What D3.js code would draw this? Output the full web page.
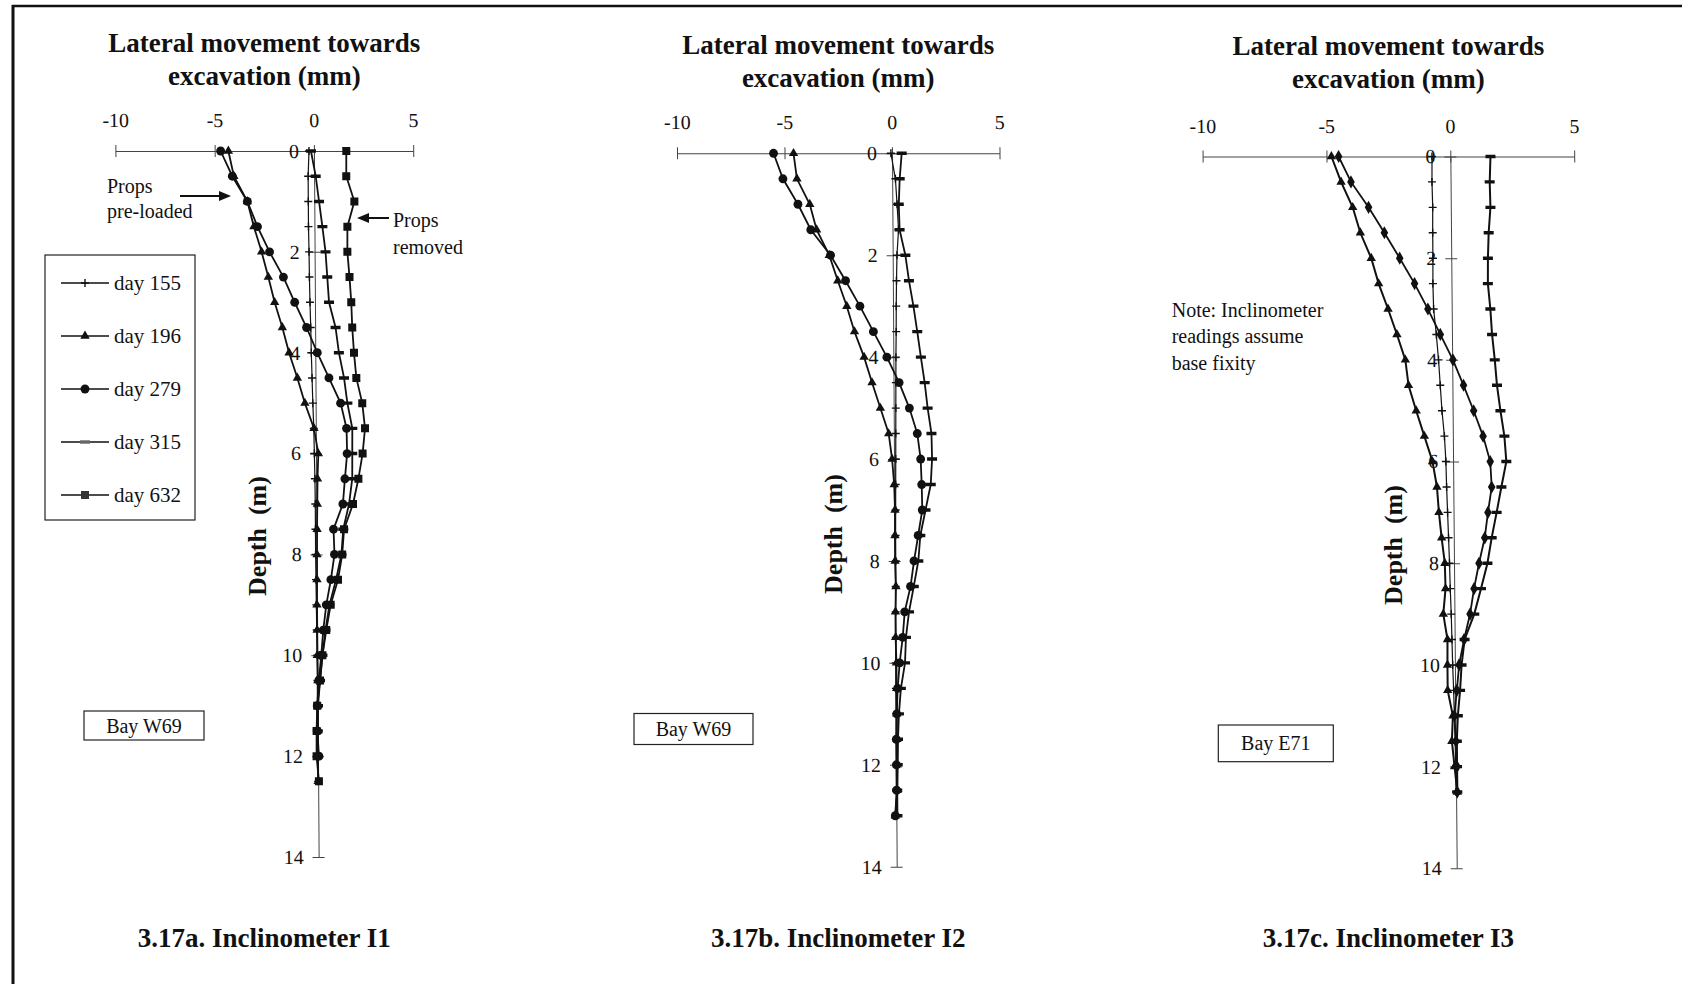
<!DOCTYPE html>
<html>
<head>
<meta charset="utf-8">
<style>
  body { margin: 0; background: #fff; }
  svg { display: block; font-family: "Liberation Serif", "Times New Roman", serif; }
  .series path.line { fill: none; stroke: #111; }
  .bold { font-weight: bold; }
</style>
</head>
<body>
<svg width="1682" height="984"></svg>
<script src="https://d3js.org/d3.v7.min.js"></script>
<script>
// depth readings (m)
var depthI1 = [0, 0.5, 1, 1.5, 2, 2.5, 3, 3.5, 4, 4.5, 5, 5.5, 6, 6.5, 7, 7.5, 8, 8.5, 9, 9.5, 10, 10.5, 11, 11.5, 12, 12.5];
var depthI2 = [0, 0.5, 1, 1.5, 2, 2.5, 3, 3.5, 4, 4.5, 5, 5.5, 6, 6.5, 7, 7.5, 8, 8.5, 9, 9.5, 10, 10.5, 11, 11.5, 12, 12.5, 13];
var depthI3 = [0, 0.5, 1, 1.5, 2, 2.5, 3, 3.5, 4, 4.5, 5, 5.5, 6, 6.5, 7, 7.5, 8, 8.5, 9, 9.5, 10, 10.5, 11, 11.5, 12, 12.5];

// lateral movement (mm), inclinometer I1
var i1Day155 = [-0.25, -0.3, -0.3, -0.3, -0.28, -0.27, -0.25, -0.22, -0.2, -0.17, -0.14, -0.1, -0.08, -0.06, -0.05, -0.05, -0.05, -0.04, -0.03, -0.02, 0, 0, 0, 0, 0, 0];
var i1Day196 = [-4.31, -4.04, -3.37, -3.05, -2.67, -2.34, -2.03, -1.65, -1.32, -0.91, -0.54, -0.09, 0.12, 0.07, 0.05, 0.03, 0.02, 0.01, 0, 0, 0, 0.02, 0, 0, 0, 0];
var i1Day279 = [-4.7, -4.12, -3.37, -2.87, -2.27, -1.58, -1.02, -0.43, 0.1, 0.68, 1.26, 1.55, 1.57, 1.45, 1.34, 0.86, 0.9, 0.71, 0.47, 0.31, 0.2, 0.07, -0.02, -0.02, 0.05, null];
var i1Day315 = [-0.15, 0.08, 0.24, 0.4, 0.55, 0.63, 0.71, 1.03, 1.19, 1.44, 1.6, 1.84, 1.83, 1.82, 1.65, 1.35, 1.25, 0.97, 0.63, 0.42, 0.26, 0.13, 0.02, 0, 0, null];
var i1Day632 = [1.63, 1.62, 2.02, 1.66, 1.65, 1.75, 1.83, 1.87, 1.95, 2.06, 2.35, 2.48, 2.35, 2.13, 1.85, 1.39, 1.29, 1.07, 0.69, 0.46, 0.26, 0.13, -0.02, -0.06, -0.07, 0.04];

// inclinometer I2
var i2Day155 = [-0.05, 0.15, 0.22, 0.28, 0.2, 0.17, 0.15, 0.14, 0.12, 0.11, 0.1, 0.09, 0.08, 0.07, 0.06, 0.05, 0.05, 0.04, 0.03, 0.03, 0.02, 0.02, 0.02, 0.02, 0.02, 0.02, 0.02];
var i2Day196 = [-4.58, -4.43, -3.84, -3.53, -2.95, -2.56, -2.15, -1.8, -1.36, -1.0, -0.62, -0.24, -0.09, 0, 0.03, 0.02, 0.02, 0.05, 0.02, 0.02, 0.05, 0.05, 0.05, 0.05, 0.05, 0.05, -0.05];
var i2Day279 = [-5.51, -5.08, -4.39, -3.8, -2.89, -2.2, -1.54, -0.92, -0.3, 0.26, 0.73, 1.09, 1.24, 1.28, 1.3, 1.1, 0.9, 0.73, 0.45, 0.35, 0.2, 0.1, 0.05, 0.02, 0.02, 0.02, -0.05];
var i2Day315 = [0.45, 0.35, 0.3, 0.33, 0.59, 0.75, 0.95, 1.12, 1.28, 1.45, 1.58, 1.75, 1.77, 1.7, 1.45, 1.2, 1.1, 0.88, 0.65, 0.5, 0.45, 0.25, 0.15, 0.1, 0.08, 0.05, 0.05];

// inclinometer I3
var i3Day155 = [-0.74, -0.75, -0.73, -0.74, -0.74, -0.75, -0.73, -0.63, -0.55, -0.49, -0.43, -0.34, -0.29, -0.27, -0.24, -0.21, -0.18, -0.16, -0.13, -0.11, -0.09, -0.06, -0.04, -0.02, 0, 0];
var i3Day196 = [-4.8, -4.42, -3.96, -3.66, -3.23, -2.94, -2.57, -2.22, -1.89, -1.77, -1.47, -1.15, -0.83, -0.66, -0.59, -0.49, -0.37, -0.35, -0.45, -0.29, -0.3, -0.3, -0.1, -0.15, -0.05, 0.05];
var i3Day279 = [-4.51, -4.02, -3.32, -2.69, -2.08, -1.49, -0.96, -0.47, 0.03, 0.45, 0.85, 1.22, 1.5, 1.55, 1.39, 1.25, 1.01, 0.8, 0.63, 0.38, 0.17, 0.07, -0.04, 0.02, 0.05, 0.05];
var i3Day315 = [1.62, 1.58, 1.6, 1.52, 1.48, 1.47, 1.56, 1.62, 1.72, 1.8, 1.93, 2.08, 2.15, 1.94, 1.74, 1.53, 1.35, 1.08, 0.8, 0.4, 0.27, 0.2, 0.1, 0.05, 0.05, 0.05];

var xTicks = [-10, -5, 0, 5];
var depthTicks = [0, 2, 4, 6, 8, 10, 12, 14];
var legendLabels = ["day 155", "day 196", "day 279", "day 315", "day 632"];
var legendMarkers = ["plus", "triangle", "circle", "dash", "square"];
var titleLines = ["Lateral movement towards", "excavation (mm)"];
var noteLines = ["Note: Inclinometer", "readings assume", "base fixity"];

var svg = d3.select("svg");
svg.append("rect").attr("width", 1682).attr("height", 984).attr("fill", "#fff");

// scanned page frame
svg.append("line").attr("x1", 12).attr("x2", 1682).attr("y1", 6).attr("y2", 6)
  .attr("stroke", "#111").attr("stroke-width", 2.5);
svg.append("line").attr("x1", 13).attr("x2", 13).attr("y1", 5).attr("y2", 984)
  .attr("stroke", "#111").attr("stroke-width", 3);

var markerPaths = {
  triangle: d3.symbol(d3.symbolTriangle, 38)(),
  circle: d3.symbol(d3.symbolCircle, 62)(),
  square: d3.symbol(d3.symbolSquare, 64)(),
  diamond: d3.symbol(d3.symbolDiamond, 50)(),
  plus: "M-4,0H4M0,-4V4",
  dash: "M-5,-1.7H5V1.7H-5Z"
};

function addMarker(sel, type, fill) {
  sel.append("path")
    .attr("d", markerPaths[type])
    .attr("fill", type === "plus" ? "none" : (fill || "#111"))
    .attr("stroke", type === "plus" ? "#111" : "none")
    .attr("stroke-width", 1.4);
}

var panels = [
  {
    depth: depthI1,
    series: [[i1Day155, "plus", 1.2], [i1Day196, "triangle", 1.8], [i1Day279, "circle", 1.8], [i1Day315, "dash", 1.8], [i1Day632, "square", 1.8]],
    left: 115.4, right: 413.2, top: 151, bottom: 857, drift: 4.7,
    titleY: [51.7, 85], captionY: 946.7, caption: "3.17a. Inclinometer I1",
    depthLabel: [256.5, 536],
    bay: { text: "Bay W69", x: 84, y: 711, w: 120, h: 29 }
  },
  {
    depth: depthI2,
    series: [[i2Day155, "plus", 1.2], [i2Day196, "triangle", 1.8], [i2Day279, "circle", 1.8], [i2Day315, "dash", 1.8]],
    left: 677, right: 999.5, top: 153.3, bottom: 866.7, drift: 4.7,
    titleY: [53.5, 87], captionY: 946.7, caption: "3.17b. Inclinometer I2",
    depthLabel: [832.5, 534],
    bay: { text: "Bay W69", x: 634, y: 713.5, w: 119, h: 31 }
  },
  {
    depth: depthI3,
    series: [[i3Day155, "plus", 1.2], [i3Day196, "triangle", 2], [i3Day279, "diamond", 1.8], [i3Day315, "dash", 2]],
    left: 1202.6, right: 1574.2, top: 156.5, bottom: 868.3, drift: 6.4,
    titleY: [55, 88.3], captionY: 946.7, caption: "3.17c. Inclinometer I3",
    depthLabel: [1393, 545],
    bay: { text: "Bay E71", x: 1218.3, y: 725, w: 115, h: 36.7 }
  }
];

panels.forEach(function(p) {
  var x = d3.scaleLinear().domain([-10, 5]).range([p.left, p.right]);
  var y = d3.scaleLinear().domain([0, 14]).range([p.top, p.bottom]);
  var cx = (p.left + p.right) / 2;

  // title
  var title = svg.append("text").attr("class", "bold").attr("text-anchor", "middle")
    .attr("font-size", 27).attr("fill", "#111");
  titleLines.forEach(function(t, i) {
    title.append("tspan").attr("x", cx).attr("y", p.titleY[i]).text(t);
  });

  // caption
  svg.append("text").attr("class", "bold").attr("x", cx).attr("y", p.captionY)
    .attr("text-anchor", "middle").attr("font-size", 27).attr("fill", "#111").text(p.caption);

  // slight shear of the scanned plot
  var ang = Math.atan(p.drift / (p.bottom - p.top)) * 180 / Math.PI;
  var g = svg.append("g")
    .attr("transform", "translate(0," + p.top + ") skewX(" + ang + ") translate(0," + (-p.top) + ")");

  // x axis along depth 0
  var gx = g.append("g").attr("transform", "translate(0," + y(0) + ")")
    .call(d3.axisTop(x).tickValues(xTicks).tickSize(6).tickSizeOuter(0).tickPadding(18)
      .tickFormat(function(d) { return String(d); }));
  gx.attr("font-size", 20).attr("font-family", null);
  gx.select(".domain").attr("stroke", "#444");
  gx.selectAll(".tick line").attr("y1", 6).attr("stroke", "#444");
  gx.selectAll(".tick text").attr("fill", "#111");

  // depth axis at x = 0
  var gy = g.append("g").attr("transform", "translate(" + x(0) + ",0)")
    .call(d3.axisLeft(y).tickValues(depthTicks).tickSize(6).tickSizeOuter(0).tickPadding(9)
      .tickFormat(function(d) { return String(d); }));
  gy.attr("font-size", 20).attr("font-family", null);
  gy.select(".domain").attr("stroke", "#444");
  gy.selectAll(".tick line").attr("x1", 6).attr("stroke", "#444");
  gy.selectAll(".tick text").attr("fill", "#111");

  // series
  p.series.forEach(function(s) {
    var vals = s[0], type = s[1], sw = s[2];
    var pts = p.depth.map(function(d, i) { return [d, vals[i]]; })
      .filter(function(d) { return d[1] !== null && d[1] !== undefined; });
    var sg = g.append("g").attr("class", "series");
    sg.append("path").attr("class", "line")
      .attr("stroke-width", sw)
      .attr("d", d3.line().x(function(d) { return x(d[1]); }).y(function(d) { return y(d[0]); })(pts));
    sg.selectAll("g.m").data(pts).enter().append("g").attr("class", "m")
      .attr("transform", function(d) { return "translate(" + x(d[1]) + "," + y(d[0]) + ")"; })
      .each(function() { addMarker(d3.select(this), type); });
  });

  // depth label
  svg.append("text").attr("class", "bold")
    .attr("transform", "translate(" + p.depthLabel[0] + "," + p.depthLabel[1] + ") rotate(-90)")
    .attr("text-anchor", "middle").attr("dy", "0.35em").attr("font-size", 26)
    .style("white-space", "pre").attr("fill", "#111").text("Depth  (m)");

  // bay box
  svg.append("rect").attr("x", p.bay.x).attr("y", p.bay.y).attr("width", p.bay.w).attr("height", p.bay.h)
    .attr("fill", "#fff").attr("stroke", "#222").attr("stroke-width", 1.2);
  svg.append("text").attr("x", p.bay.x + p.bay.w / 2).attr("y", p.bay.y + p.bay.h / 2)
    .attr("dy", "0.35em").attr("text-anchor", "middle").attr("font-size", 20).attr("fill", "#111")
    .text(p.bay.text);
});

// legend (panel a)
var lg = svg.append("g");
lg.append("rect").attr("x", 45).attr("y", 255).attr("width", 150).attr("height", 265)
  .attr("fill", "#fff").attr("stroke", "#222").attr("stroke-width", 1.2);
legendLabels.forEach(function(lab, i) {
  var yy = 283 + i * 53;
  lg.append("line").attr("x1", 61).attr("x2", 109).attr("y1", yy).attr("y2", yy)
    .attr("stroke", "#111").attr("stroke-width", 1.6);
  var m = lg.append("g").attr("transform", "translate(85," + yy + ")");
  addMarker(m, legendMarkers[i], legendMarkers[i] === "dash" ? "#666" : (legendMarkers[i] === "square" ? "#333" : "#111"));
  lg.append("text").attr("x", 114).attr("y", yy).attr("dy", "0.35em")
    .attr("font-size", 21).attr("fill", "#111").text(lab);
});

// annotations (panel a)
function arrow(x1, x2, yy) {
  var dir = x2 > x1 ? 1 : -1;
  svg.append("line").attr("x1", x1).attr("x2", x2 - dir * 10).attr("y1", yy).attr("y2", yy)
    .attr("stroke", "#111").attr("stroke-width", 2);
  svg.append("polygon")
    .attr("points", [[x2, yy], [x2 - dir * 12, yy - 5], [x2 - dir * 12, yy + 5]].join(" "))
    .attr("fill", "#111");
}
svg.append("text").attr("x", 107).attr("y", 193).attr("font-size", 20).attr("fill", "#111").text("Props");
svg.append("text").attr("x", 107).attr("y", 218).attr("font-size", 20).attr("fill", "#111").text("pre-loaded");
arrow(180, 231, 196);
svg.append("text").attr("x", 393).attr("y", 227).attr("font-size", 20).attr("fill", "#111").text("Props");
svg.append("text").attr("x", 393).attr("y", 254).attr("font-size", 20).attr("fill", "#111").text("removed");
arrow(389, 357, 218);

// note (panel c)
noteLines.forEach(function(t, i) {
  svg.append("text").attr("x", 1171.7).attr("y", 316.7 + i * 26.7)
    .attr("font-size", 20).attr("fill", "#111").text(t);
});
</script>
</body>
</html>
